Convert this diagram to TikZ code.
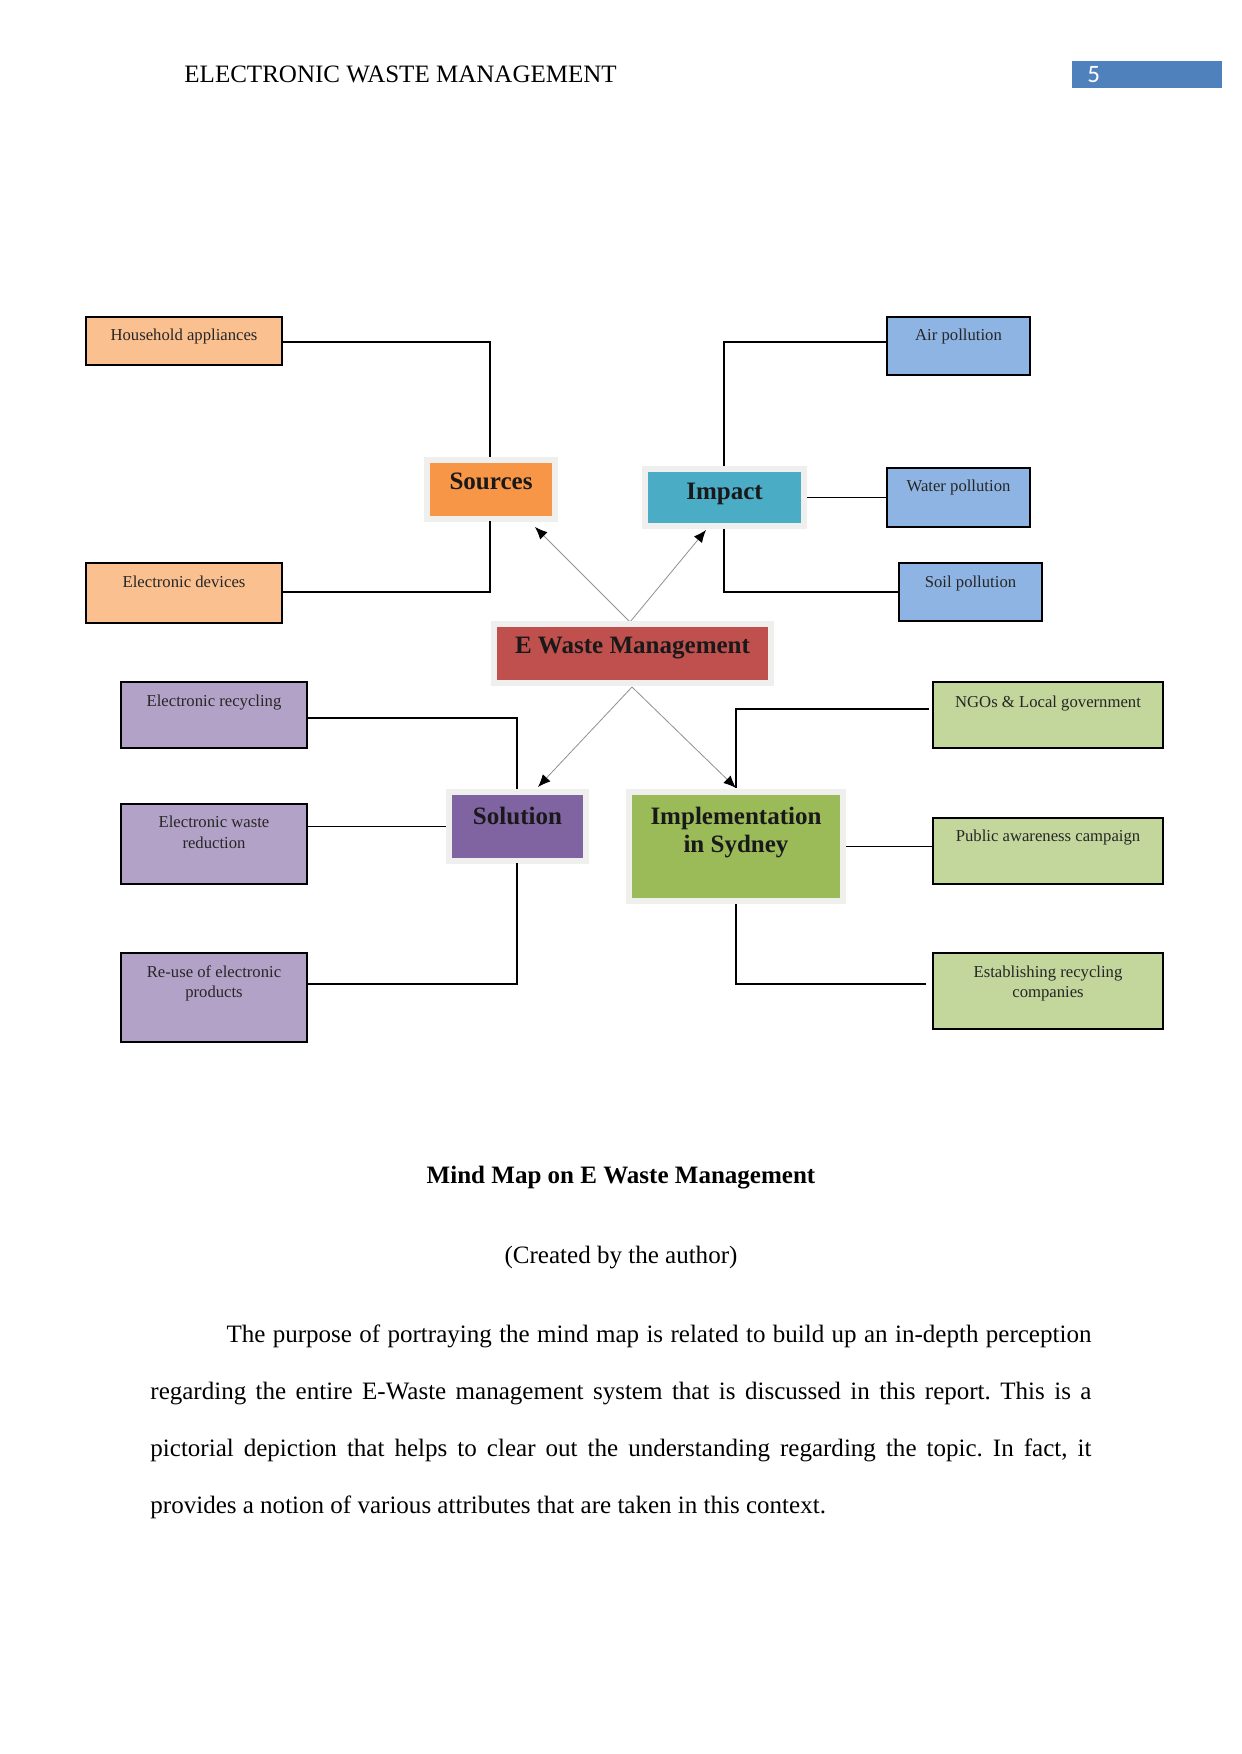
\documentclass[tikz,border=0pt]{standalone}
\usepackage{fontspec}
\setmainfont{Liberation Serif}
\newfontfamily\pgnumfont{Carlito}
\usetikzlibrary{arrows.meta}
\frenchspacing
\definecolor{lorange}{HTML}{FAC090}
\definecolor{sorange}{HTML}{F79646}
\definecolor{lblue}{HTML}{8EB4E3}
\definecolor{simpact}{HTML}{4BACC6}
\definecolor{cred}{HTML}{C0504D}
\definecolor{lpurple}{HTML}{B3A2C7}
\definecolor{spurple}{HTML}{8064A2}
\definecolor{lgreen}{HTML}{C3D69B}
\definecolor{sgreen}{HTML}{9BBB59}
\definecolor{glowc}{HTML}{EFF0EE}
\definecolor{pgblue}{HTML}{4F81BD}
\newcommand\pxu{0.4795pt}
% name, x1, y1, x2, y2, fill, text-top y, text
\newcommand\leafbox[8]{%
  \node[leaf, fill=#6, minimum width={(#4-#2)*\pxu}, minimum height={(#5-#3)*\pxu}] (#1) at ({(#2+#4)/2},{(#3+#5)/2}) {};
  \node[leaftext, anchor=north] (#1-t) at ({(#2+#4)/2},#7) {#8};}
\newcommand\mainbox[8]{%
  \node[glowbox, minimum width={(#4-#2+12)*\pxu}, minimum height={(#5-#3+12)*\pxu}] (#1g) at ({(#2+#4)/2},{(#3+#5)/2}) {};
  \node[mainfill, fill=#6, minimum width={(#4-#2)*\pxu}, minimum height={(#5-#3)*\pxu}] (#1) at ({(#2+#4)/2},{(#3+#5)/2}) {};
  \node[maintext, anchor=north] (#1-t) at ({(#2+#4)/2},#7) {#8};}
\begin{document}
\begin{tikzpicture}[x=0.4795pt,y=-0.4795pt,
  leaf/.style={draw=black, line width=0.55pt, inner sep=0pt, rectangle},
  leaftext/.style={inner sep=0pt, font=\fontsize{8}{9.6}\selectfont, align=center, text=black!85},
  mainfill/.style={inner sep=0pt, rectangle},
  maintext/.style={inner sep=0pt, font=\fontsize{12}{13.5}\selectfont\bfseries, align=center, text=black!90},
  glowbox/.style={fill=glowc, inner sep=0pt, rectangle},
  conn/.style={draw=black, line width=0.55pt},
  arr/.style={draw=gray!85, line width=0.4pt, -{Latex[length=6pt,width=5pt,color=black]}},
  bodytext/.style={inner sep=0pt, font=\fontsize{12}{14}\selectfont}]
\useasboundingbox (0,0) rectangle (1241,1754);
\fill[white] (0,0) rectangle (1241,1754);

% header
\node[bodytext, anchor=base west] (hdr) at (184,83) {ELECTRONIC WASTE MANAGEMENT};
\node[fill=pgblue, inner sep=0pt, minimum width={150*\pxu}, minimum height={27*\pxu}] (pgbox) at (1147,74.5) {};
\node[inner sep=0pt, anchor=base west, text=white, font=\pgnumfont\fontsize{12}{14}\selectfont] (pgnum) at (1087,83) {5};

% arrows from the centre
\coordinate (apT) at (630,622);
\coordinate (tipS) at (535,527);
\coordinate (tipI) at (706,530);
\coordinate (apB) at (632,687);
\coordinate (tipSol) at (538,787);
\coordinate (tipImpl) at (736,788);
\draw[arr] (apT) -- (tipS);
\draw[arr] (apT) -- (tipI);
\draw[arr] (apB) -- (tipSol);
\draw[arr] (apB) -- (tipImpl);

% main nodes
\mainbox{src}{430}{463}{552}{516}{sorange}{473}{Sources}
\mainbox{imp}{648}{472}{801}{523}{simpact}{483}{Impact}
\mainbox{cen}{497}{627}{768}{680}{cred}{637}{E Waste Management}
\mainbox{sol}{452}{795}{583}{858}{spurple}{807}{Solution}
\mainbox{impl}{632}{795}{840}{898}{sgreen}{807}{Implementation\\in Sydney}

% leaf boxes
\leafbox{hh}{86}{317}{282}{365}{lorange}{329}{Household appliances}
\leafbox{ed}{86}{563}{282}{623}{lorange}{576}{Electronic devices}
\leafbox{air}{887}{317}{1030}{375}{lblue}{329}{Air pollution}
\leafbox{water}{887}{468}{1030}{527}{lblue}{480}{Water pollution}
\leafbox{soil}{899}{563}{1042}{621}{lblue}{576}{Soil pollution}
\leafbox{rec}{121}{682}{307}{748}{lpurple}{695}{Electronic recycling}
\leafbox{red}{121}{804}{307}{884}{lpurple}{816}{Electronic waste\\reduction}
\leafbox{reuse}{121}{953}{307}{1042}{lpurple}{965}{Re-use of electronic\\products}
\leafbox{ngo}{933}{682}{1163}{748}{lgreen}{696}{NGOs \& Local government}
\leafbox{pub}{933}{818}{1163}{884}{lgreen}{830}{Public awareness campaign}
\leafbox{est}{933}{953}{1163}{1029}{lgreen}{965}{Establishing recycling\\companies}

% connectors: sources
\coordinate (sA) at (490,342);
\coordinate (s1) at (490,457);
\coordinate (sB) at (490,592);
\coordinate (s2) at (490,521);
\draw[conn] (hh.east |- sA) -- (sA) -- (s1);
\draw[conn] (ed.east |- sB) -- (sB) -- (s2);
% impact
\coordinate (iA) at (724,342);
\coordinate (i1) at (724,466);
\coordinate (iB) at (724,592);
\coordinate (i2) at (724,529);
\draw[conn] (air.west |- iA) -- (iA) -- (i1);
\draw[conn] (soil.west |- iB) -- (iB) -- (i2);
\draw[conn] (impg.east) -- (impg.east -| water.west);
% solution
\coordinate (oA) at (517,718);
\coordinate (o1) at (517,789);
\coordinate (oB) at (517,984);
\coordinate (o2) at (517,863);
\draw[conn] (rec.east |- oA) -- (oA) -- (o1);
\draw[conn] (reuse.east |- oB) -- (oB) -- (o2);
\draw[conn] (red.east |- solg.west) -- (solg.west);
% implementation
\coordinate (mA) at (736,709);
\coordinate (m1) at (736,788);
\coordinate (nE) at (929,709);
\coordinate (mB) at (736,984);
\coordinate (m2) at (736,904);
\coordinate (eE) at (926,984);
\draw[conn] (m1) -- (mA) -- (nE);
\draw[conn] (m2) -- (mB) -- (eE);
\draw[conn] (implg.east) -- (implg.east -| pub.west);

% caption and text
\node[bodytext, anchor=base, font=\fontsize{12}{14}\selectfont\bfseries] (cap) at (621,1183) {Mind Map on E Waste Management};
\node[bodytext, anchor=base] (credit) at (621,1263) {(Created by the author)};
\node[inner sep=0pt, anchor=base west, text width={941*\pxu}, align=justify, font=\fontsize{12}{27.4}\selectfont] (para) at (150,1342)
 {\hspace*{36.5pt}The purpose of portraying the mind map is related to build up an in-depth perception\linebreak
 regarding the entire E-Waste management system that is discussed in this report. This is a\linebreak
 pictorial depiction that helps to clear out the understanding regarding the topic. In fact, it\linebreak
 provides a notion of various attributes that are taken in this context.};
\end{tikzpicture}
\end{document}
